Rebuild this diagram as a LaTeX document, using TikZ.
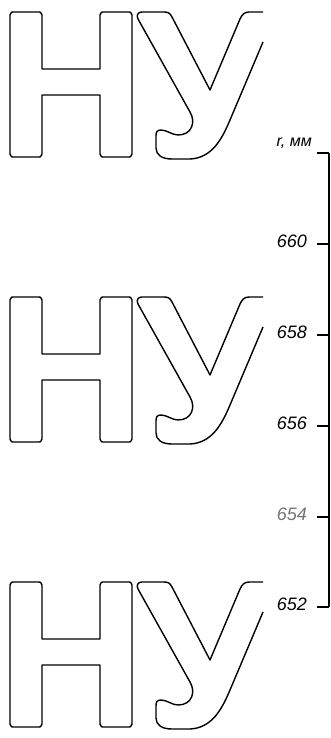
\documentclass[tikz,border=0pt]{standalone}
\usepackage{fontspec}
\setmainfont{Liberation Sans}
\usetikzlibrary{calc}

\tikzset{glyph/.style={line width=1.4pt,line join=round},
  scaleline/.style={line width=1.1pt},
  scalelabel/.style={font=\itshape\fontsize{18}{18}\selectfont,anchor=base east,inner sep=0pt}}

\begin{document}
\begin{tikzpicture}[x=1pt,y=-1pt]
  \useasboundingbox (0,0) rectangle (330,738);
  % three copies of the lettering
  \foreach \t in {12,297,582}{
  \begin{scope}[shift={(0,\t)}]
    \draw[glyph] (10,3) .. controls (11,0) .. (15,0) -- (37,0) .. controls (41,0) .. (42,3)
      -- (42,57) -- (100,57) -- (100,3) .. controls (101,0) .. (105,0) -- (127,0)
      .. controls (131,0) .. (132,3) -- (132,142) .. controls (131,145) .. (127,145)
      -- (105,145) .. controls (101,145) .. (100,142) -- (100,83) -- (42,83) -- (42,142)
      .. controls (41,145) .. (37,145) -- (15,145) .. controls (11,145) .. (10,142) -- cycle;
    \draw[glyph] (263,0) -- (249,0) .. controls (244,0) and (242,3) .. (240,7) -- (210,78)
      -- (172,5) .. controls (170,1) and (168,0) .. (164,0) -- (142,0)
      .. controls (138,0) and (136,3) .. (138,7) -- (190,100)
      .. controls (196,110) and (192,123) .. (178,123) .. controls (172,123) and (167,118) .. (161,118)
      .. controls (157,118) and (156,120) .. (156,124) -- (156,136)
      .. controls (156,143) and (162,147) .. (172,147) -- (190,147)
      .. controls (212,146) and (222,127) .. (230,108) -- (263,30);
  \end{scope}
  }
  % scale
  \coordinate (atop) at (329,153);
  \coordinate (abot) at (329,607);
  \draw[scaleline] (atop) -- (abot);
  \draw[scaleline] (atop) -- ++(-12,0);
  \node[scalelabel,font=\itshape\fontsize{16}{16}\selectfont] (unit) at ($(atop)+(-17,-6)$) {r, мм};
  \foreach \v/\y in {660/244,658/335,656/426,652/607}{
    \coordinate (t\v) at (329,\y);
    \draw[scaleline] (t\v) -- ++(-12,0);
    \node[scalelabel] (l\v) at ($(t\v)+(-22,3)$) {\v};
  }
  \coordinate (t654) at (329,517);
  \draw[scaleline] (t654) -- ++(-12,0);
  \node[scalelabel,text=black!55] (l654) at ($(t654)+(-22,3)$) {654};
\end{tikzpicture}
\end{document}
